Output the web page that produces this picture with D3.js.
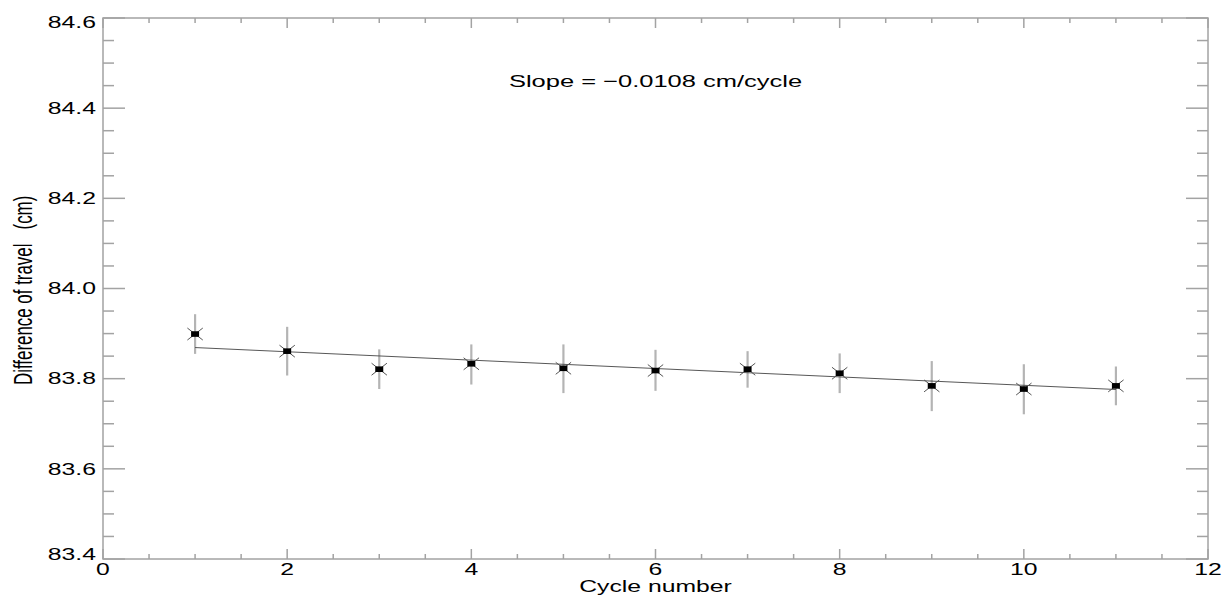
<!DOCTYPE html>
<html>
<head>
<meta charset="utf-8">
<script src="https://cdn.jsdelivr.net/npm/d3@7"></script>
<style>
  html, body { margin: 0; padding: 0; background: #fff; }
  svg text { font-family: "Liberation Sans", Arial, Helvetica, sans-serif; fill: #000; }
</style>
</head>
<body>
<svg id="chart" width="1226" height="595"></svg>
<script>
// ---- data ----
const cycles = [1, 2, 3, 4, 5, 6, 7, 8, 9, 10, 11];
const travel = [83.899, 83.861, 83.821, 83.833, 83.823, 83.818, 83.821, 83.812, 83.784, 83.777, 83.784];
const errLow = [83.855, 83.807, 83.777, 83.787, 83.768, 83.773, 83.780, 83.768, 83.728, 83.721, 83.741];
const errHigh = [83.943, 83.915, 83.865, 83.876, 83.876, 83.864, 83.861, 83.856, 83.839, 83.832, 83.827];
const fitX = [1, 11];
const fitY = [83.869, 83.776];
const xTicks = [0, 2, 4, 6, 8, 10, 12];
const yTicks = [83.4, 83.6, 83.8, 84.0, 84.2, 84.4, 84.6];
const title = "Slope = \u22120.0108 cm/cycle";
const xTitle = "Cycle number";
const yTitle = "Difference of travel\u00A0\u00A0\u00A0(cm)";

// ---- layout ----
const L = 103, R = 1208, T = 18, B = 559;
const SX = 1.5; // horizontal text stretch
const axisColor = "#a3a3a3";

const svg = d3.select("#chart");
const x = d3.scaleLinear().domain([0, 12]).range([L, R]);
const y = d3.scaleLinear().domain([83.4, 84.6]).range([B, T]);

const xMinor = d3.range(0, 12.0001, 0.5);
const yMinor = d3.range(83.4, 84.6001, 0.05);

const g = svg.append("g");

// axes frame
g.append("rect").attr("x", L).attr("y", T).attr("width", R - L).attr("height", B - T)
  .attr("fill", "none").attr("stroke", axisColor).attr("stroke-width", 1.5);

function isMajorX(v) { return Math.abs(v / 2 - Math.round(v / 2)) < 1e-6; }
function isMajorY(v) { return Math.abs((v - 83.4) / 0.2 - Math.round((v - 83.4) / 0.2)) < 1e-6; }
xMinor.forEach(v => {
  const len = isMajorX(v) ? 10 : 5;
  g.append("line").attr("x1", x(v)).attr("x2", x(v)).attr("y1", B).attr("y2", B - len)
    .attr("stroke", axisColor).attr("stroke-width", 1.5);
  g.append("line").attr("x1", x(v)).attr("x2", x(v)).attr("y1", T).attr("y2", T + len)
    .attr("stroke", axisColor).attr("stroke-width", 1.5);
});
yMinor.forEach(v => {
  const len = isMajorY(v) ? 22 : 11;
  g.append("line").attr("x1", L).attr("x2", L + len).attr("y1", y(v)).attr("y2", y(v))
    .attr("stroke", axisColor).attr("stroke-width", 1.5);
  g.append("line").attr("x1", R).attr("x2", R - len).attr("y1", y(v)).attr("y2", y(v))
    .attr("stroke", axisColor).attr("stroke-width", 1.5);
});

function stretchedText(parent, tx, ty, str, size, anchor, extra) {
  return parent.append("text")
    .attr("transform", `translate(${tx},${ty}) scale(${SX},1)` + (extra || ""))
    .attr("text-anchor", anchor)
    .attr("font-size", size)
    .text(str);
}

// x tick labels
xTicks.forEach(v => {
  stretchedText(g, x(v), 575, String(v), 16.5, "middle");
});
// y tick labels
yTicks.forEach(v => {
  let cy = y(v);
  cy = Math.max(T + 4.5, Math.min(B - 5.2, cy));
  stretchedText(g, 96, cy + 5.8, v.toFixed(1), 16.5, "end");
});

// axis titles
stretchedText(g, (L + R) / 2, 592, xTitle, 16.5, "middle");
stretchedText(g, 32, 385, yTitle, 16.9, "start", " rotate(-90)");

// title
stretchedText(g, (L + R) / 2, 87, title, 17, "middle");

// error bars
g.selectAll(".err").data(cycles).enter().append("line")
  .attr("x1", (d) => x(d)).attr("x2", (d) => x(d))
  .attr("y1", (d, i) => y(errLow[i])).attr("y2", (d, i) => y(errHigh[i]))
  .attr("stroke", "#b4b4b4").attr("stroke-width", 2.2);

// fit line
g.append("line")
  .attr("x1", x(fitX[0])).attr("y1", y(fitY[0]))
  .attr("x2", x(fitX[1])).attr("y2", y(fitY[1]))
  .attr("stroke", "#444").attr("stroke-width", 0.9);

// markers: X + filled box
const m = g.selectAll(".mk").data(cycles).enter().append("g")
  .attr("transform", (d, i) => `translate(${x(d)},${y(travel[i])})`);
m.append("path").attr("d", "M-7.7,-6L7.7,6M-7.7,6L7.7,-6")
  .attr("stroke", "#555").attr("stroke-width", 1);
m.append("rect").attr("x", -4).attr("y", -2.8).attr("width", 8).attr("height", 5.6)
  .attr("fill", "#000");
</script>
</body>
</html>
